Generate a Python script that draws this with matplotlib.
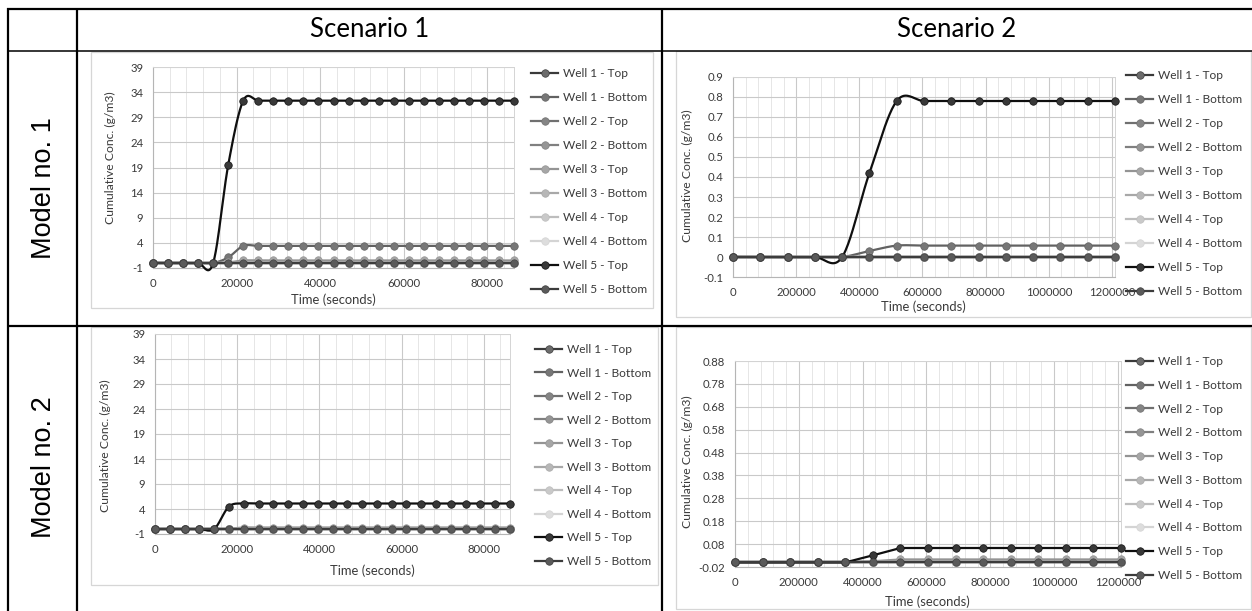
import numpy as np
import matplotlib
matplotlib.use("Agg")
import matplotlib.pyplot as plt
from matplotlib.ticker import MultipleLocator, FuncFormatter
from matplotlib.lines import Line2D
from matplotlib.patches import Rectangle

W, H, DPI = 1252, 611, 100

# ---------------- data ----------------
series_names = ["Well 1 - Top", "Well 1 - Bottom", "Well 2 - Top", "Well 2 - Bottom",
                "Well 3 - Top", "Well 3 - Bottom", "Well 4 - Top", "Well 4 - Bottom",
                "Well 5 - Top", "Well 5 - Bottom"]
scenario_titles = ["Scenario 1", "Scenario 2"]
model_titles = ["Model no. 1", "Model no. 2"]

# Scenario 1: hourly samples over one day (s)
time_s1 = [0, 3600, 7200, 10800, 14400, 18000, 21600, 25200, 28800, 32400, 36000, 39600,
           43200, 46800, 50400, 54000, 57600, 61200, 64800, 68400, 72000, 75600, 79200,
           82800, 86400]
# Scenario 2: daily samples over two weeks (s)
time_s2 = [0, 86400, 172800, 259200, 345600, 432000, 518400, 604800, 691200, 777600,
           864000, 950400, 1036800, 1123200, 1209600]

zero_s1 = [0.0] * len(time_s1)
zero_s2 = [0.0] * len(time_s2)

# Model 1 - Scenario 1
m1s1_w5_top = [0, 0, 0, 0, 0, 19.5, 32.3, 32.3, 32.3, 32.3, 32.3, 32.3, 32.3, 32.3, 32.3,
               32.3, 32.3, 32.3, 32.3, 32.3, 32.3, 32.3, 32.3, 32.3, 32.3]
m1s1_w1_bottom = [0, 0, 0, 0, 0, 1.1, 3.4, 3.4, 3.4, 3.4, 3.4, 3.4, 3.4, 3.4, 3.4,
                  3.4, 3.4, 3.4, 3.4, 3.4, 3.4, 3.4, 3.4, 3.4, 3.4]
m1s1_w3_top = [0, 0, 0, 0, 0, 0.1, 0.5, 0.5, 0.5, 0.5, 0.5, 0.5, 0.5, 0.5, 0.5,
               0.5, 0.5, 0.5, 0.5, 0.5, 0.5, 0.5, 0.5, 0.5, 0.5]

# Model 1 - Scenario 2
m1s2_w5_top = [0, 0, 0, 0, 0, 0.42, 0.78, 0.78, 0.78, 0.78, 0.78, 0.78, 0.78, 0.78, 0.78]
m1s2_w1_bottom = [0, 0, 0, 0, 0, 0.03, 0.057, 0.057, 0.057, 0.057, 0.057, 0.057, 0.057,
                  0.057, 0.057]

# Model 2 - Scenario 1
m2s1_w5_top = [0, 0, 0, 0, 0, 4.5, 5.1, 5.1, 5.1, 5.1, 5.1, 5.1, 5.1, 5.1, 5.1,
               5.1, 5.1, 5.1, 5.1, 5.1, 5.1, 5.1, 5.1, 5.1, 5.1]
m2s1_w3_top = [0, 0, 0, 0, 0, 0.05, 0.3, 0.3, 0.3, 0.3, 0.3, 0.3, 0.3, 0.3, 0.3,
               0.3, 0.3, 0.3, 0.3, 0.3, 0.3, 0.3, 0.3, 0.3, 0.3]

# Model 2 - Scenario 2
m2s2_w5_top = [0, 0, 0, 0, 0, 0.031, 0.063, 0.063, 0.063, 0.063, 0.063, 0.063, 0.063,
               0.063, 0.063]
m2s2_w3_top = [0, 0, 0, 0, 0, 0.005, 0.013, 0.013, 0.013, 0.013, 0.013, 0.013, 0.013,
               0.013, 0.013]

m1s1 = [zero_s1, m1s1_w1_bottom, zero_s1, zero_s1, m1s1_w3_top, zero_s1, zero_s1, zero_s1,
        m1s1_w5_top, zero_s1]
m1s2 = [zero_s2, m1s2_w1_bottom, zero_s2, zero_s2, zero_s2, zero_s2, zero_s2, zero_s2,
        m1s2_w5_top, zero_s2]
m2s1 = [zero_s1, zero_s1, zero_s1, zero_s1, m2s1_w3_top, zero_s1, zero_s1, zero_s1,
        m2s1_w5_top, zero_s1]
m2s2 = [zero_s2, zero_s2, zero_s2, zero_s2, m2s2_w3_top, zero_s2, zero_s2, zero_s2,
        m2s2_w5_top, zero_s2]

yticks_a = [-1, 4, 9, 14, 19, 24, 29, 34, 39]
yticks_b = [-0.1, 0, 0.1, 0.2, 0.3, 0.4, 0.5, 0.6, 0.7, 0.8, 0.9]
yticklabels_b = ["-0.1", "0", "0.1", "0.2", "0.3", "0.4", "0.5", "0.6", "0.7", "0.8", "0.9"]
yticks_d = [-0.02, 0.08, 0.18, 0.28, 0.38, 0.48, 0.58, 0.68, 0.78, 0.88]
yticklabels_d = ["-0.02", "0.08", "0.18", "0.28", "0.38", "0.48", "0.58", "0.68", "0.78", "0.88"]

# ---------------- styles ----------------
line_colors = ["#3a3a3a", "#626262", "#707070", "#808080", "#949494", "#a8a8a8",
               "#bdbdbd", "#d4d4d4", "#0f0f0f", "#3c3c3c"]
marker_colors = ["#6c6c6c", "#777777", "#858585", "#959595", "#a6a6a6", "#b7b7b7",
                 "#c9c9c9", "#dddddd", "#383838", "#5a5a5a"]
CHART_FONT = "Lato"
TXT = "#3a3a3a"
MS = 5.4
LW = 1.6


def rect(l, t, r, b):
    return [l / W, 1 - b / H, (r - l) / W, (b - t) / H]


def smooth(x, y, n=24):
    x = np.asarray(x, float)
    y = np.asarray(y, float)
    P = np.column_stack([x, y])
    out = [P[0]]
    t = np.linspace(0, 1, n)[1:][:, None]
    for i in range(len(P) - 1):
        p0 = P[i - 1] if i > 0 else P[i]
        p1, p2 = P[i], P[i + 1]
        p3 = P[i + 2] if i + 2 < len(P) else P[i + 1]
        c1 = p1 + (p2 - p0) / 6.0
        c2 = p2 - (p3 - p1) / 6.0
        seg = ((1 - t) ** 3) * p1 + 3 * ((1 - t) ** 2) * t * c1 + 3 * (1 - t) * t ** 2 * c2 + t ** 3 * p2
        out.extend(seg)
    out = np.array(out)
    return out[:, 0], out[:, 1]


fig = plt.figure(figsize=(W / DPI, H / DPI), dpi=DPI)
fig.patch.set_facecolor("white")

bg = fig.add_axes([0, 0, 1, 1], zorder=0)
bg.set_xlim(0, W)
bg.set_ylim(H, 0)
bg.axis("off")

# chart boxes
boxes = [(91, 51.5, 653, 308), (676, 50.5, 1251, 317), (91, 327, 658, 585), (676, 327, 1251, 609)]
for (l, t, r, b) in boxes:
    bg.add_patch(Rectangle((l, t), r - l, b - t, facecolor="white", edgecolor="#d6d6d6",
                           lw=0.9, zorder=1))

# table lines
tl = dict(color="black", zorder=3, solid_capstyle="butt")
bg.plot([7, W], [9, 9], lw=1.6, **tl)
bg.plot([7, W], [50.5, 50.5], lw=1.1, **tl)
bg.plot([7, W], [326, 326], lw=1.6, **tl)
bg.plot([8, 8], [8, H], lw=1.6, **tl)
bg.plot([77, 77], [8, H], lw=1.6, **tl)
bg.plot([662, 662], [8, H], lw=1.6, **tl)

# headers
for txt, cx in zip(scenario_titles, [369.5, 957]):
    bg.text(cx, 37, txt, ha="center", va="baseline", fontsize=18.5, family="Lato",
            color="black", zorder=4)
for txt, cy in zip(model_titles, [188.5, 467]):
    bg.text(44, cy, txt, ha="center", va="center", rotation=90, fontsize=19.5,
            family="Liberation Sans", color="black", zorder=4)

intfmt = FuncFormatter(lambda v, p: f"{v:.0f}")

charts = [
    dict(data=m1s1, t=time_s1, pr=(153, 67, 514, 268), ylim=(-1, 39), yt=yticks_a, yl=None,
         xmaj=20000, xmin=4000, sm=True, leg=(531, 68, 1.09), ylab=(110, 158), xlab=(333, 300)),
    dict(data=m1s2, t=time_s2, pr=(733, 77, 1115, 277), ylim=(-0.1, 0.9), yt=yticks_b, yl=yticklabels_b,
         xmaj=200000, xmin=40000, sm=True, leg=(1126, 70, 1.09), ylab=(687, 176), xlab=(923, 307)),
    dict(data=m2s1, t=time_s1, pr=(155, 334, 510, 534), ylim=(-1, 39), yt=yticks_a, yl=None,
         xmaj=20000, xmin=4000, sm=True, leg=(535, 344, 1.05), ylab=(105, 446), xlab=(372, 571)),
    dict(data=m2s2, t=time_s2, pr=(735, 361, 1121, 567), ylim=(-0.02, 0.88), yt=yticks_d, yl=yticklabels_d,
         xmaj=200000, xmin=40000, sm=False, leg=(1126, 356, 1.07), ylab=(687, 462), xlab=(927, 602)),
]

for c in charts:
    ax = fig.add_axes(rect(*c["pr"]), zorder=2)
    ax.set_facecolor("none")
    t = c["t"]
    for i, (name, vals) in enumerate(zip(series_names, c["data"])):
        if c["sm"]:
            xs, ys = smooth(t, vals)
        else:
            xs, ys = t, vals
        ax.plot(xs, ys, color=line_colors[i], lw=LW, clip_on=False, zorder=3 + i * 0.1)
        ax.plot(t, vals, ls="none", marker="o", ms=MS, mfc=marker_colors[i],
                mec=line_colors[i], mew=0.5, clip_on=False, zorder=3.05 + i * 0.1)
    ax.set_xlim(0, t[-1])
    ax.set_ylim(*c["ylim"])
    ax.xaxis.set_major_locator(MultipleLocator(c["xmaj"]))
    ax.xaxis.set_minor_locator(MultipleLocator(c["xmin"]))
    ax.xaxis.set_major_formatter(intfmt)
    ax.set_yticks(c["yt"])
    if c["yl"] is not None:
        ax.set_yticklabels(c["yl"])
    else:
        ax.yaxis.set_major_formatter(intfmt)
    ax.grid(which="major", axis="both", color="#c9c9c9", lw=0.8)
    ax.grid(which="minor", axis="x", color="#e6e6e6", lw=0.7)
    ax.set_axisbelow(True)
    ax.tick_params(which="both", length=0, labelsize=8.2, labelcolor=TXT, pad=7)
    for lab in ax.get_xticklabels() + ax.get_yticklabels():
        lab.set_family(CHART_FONT)
    for s in ["left", "bottom"]:
        ax.spines[s].set_color("#b5b5b5")
        ax.spines[s].set_linewidth(0.8)
    for s in ["top", "right"]:
        ax.spines[s].set_color("#d4d4d4")
        ax.spines[s].set_linewidth(0.7)

    handles = [Line2D([], [], color=line_colors[i], lw=LW, marker="o", ms=MS,
                      mfc=marker_colors[i], mec=line_colors[i], mew=0.5)
               for i in range(len(series_names))]
    lx, ly, lsp = c["leg"]
    ax.legend(handles, series_names, loc="upper left", bbox_to_anchor=(lx / W, 1 - ly / H),
              bbox_transform=fig.transFigure, frameon=False, borderpad=0, borderaxespad=0,
              handlelength=2.3, handletextpad=0.35, labelspacing=lsp, numpoints=1,
              prop=dict(family=CHART_FONT, size=8.6), labelcolor=TXT)

    yx, yy = c["ylab"]
    bg.text(yx, yy, "Cumulative Conc. (g/m3)", rotation=90, ha="center", va="center",
            fontsize=8.7, family=CHART_FONT, color=TXT, zorder=4)
    xx, xy = c["xlab"]
    bg.text(xx, xy, "Time (seconds)", ha="center", va="center", fontsize=9.4,
            family=CHART_FONT, color=TXT, zorder=4)

fig.savefig("out.png", dpi=DPI, facecolor="white")
